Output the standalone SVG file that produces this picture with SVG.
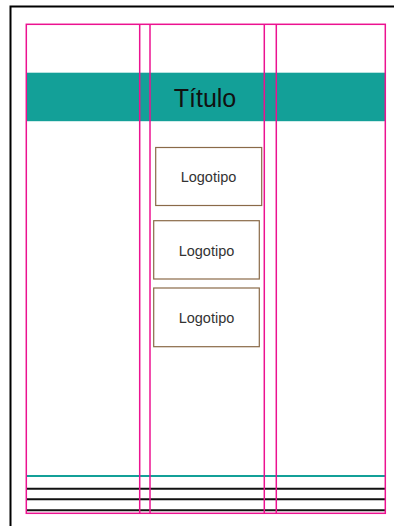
<svg xmlns="http://www.w3.org/2000/svg" width="394" height="526" viewBox="0 0 394 526">
<style>
.guide{fill:none;stroke:#ec1290;stroke-width:1.5}
.logo rect{fill:#fff;stroke:#8a6a48;stroke-width:1.2}
.logo text{font-family:"Liberation Sans",Arial,sans-serif;font-size:14.5px;fill:#333;text-anchor:middle}
.rule{stroke:#111;stroke-width:2}
</style>
<rect width="394" height="526" fill="#fff"/>
<g id="page">
<path d="M10.5 530 V6.5 H400" fill="none" stroke="#000" stroke-width="2"/>
</g>
<g id="title">
<rect x="26" y="72.7" width="359.5" height="48.5" fill="#13a098"/>
<text x="205" y="107" font-family="Liberation Sans,Arial,sans-serif" font-size="25" font-weight="300" fill="#111" text-anchor="middle">Título</text>
</g>
<g id="logo1" class="logo"><rect x="155.7" y="147.5" width="106" height="58"/><text x="208.5" y="182">Logotipo</text></g>
<g id="logo2" class="logo"><rect x="153.7" y="220.7" width="105.6" height="58.3"/><text x="206.5" y="255.5">Logotipo</text></g>
<g id="logo3" class="logo"><rect x="153.7" y="288" width="105.6" height="58.7"/><text x="206.5" y="322.5">Logotipo</text></g>
<g id="footer">
<line x1="26" y1="476" x2="385.5" y2="476" stroke="#13a098" stroke-width="2"/>
<line class="rule" x1="26" y1="488.7" x2="385.5" y2="488.7"/>
<line class="rule" x1="26" y1="499.3" x2="385.5" y2="499.3"/>
<line class="rule" x1="26" y1="510.3" x2="385.5" y2="510.3"/>
</g>
<g id="guides">
<rect class="guide" x="26.3" y="24.3" width="359" height="489"/>
<line class="guide" x1="139.7" y1="24.3" x2="139.7" y2="513.3"/>
<line class="guide" x1="150" y1="24.3" x2="150" y2="513.3"/>
<line class="guide" x1="264.3" y1="24.3" x2="264.3" y2="513.3"/>
<line class="guide" x1="276.3" y1="24.3" x2="276.3" y2="513.3"/>
</g>
</svg>
